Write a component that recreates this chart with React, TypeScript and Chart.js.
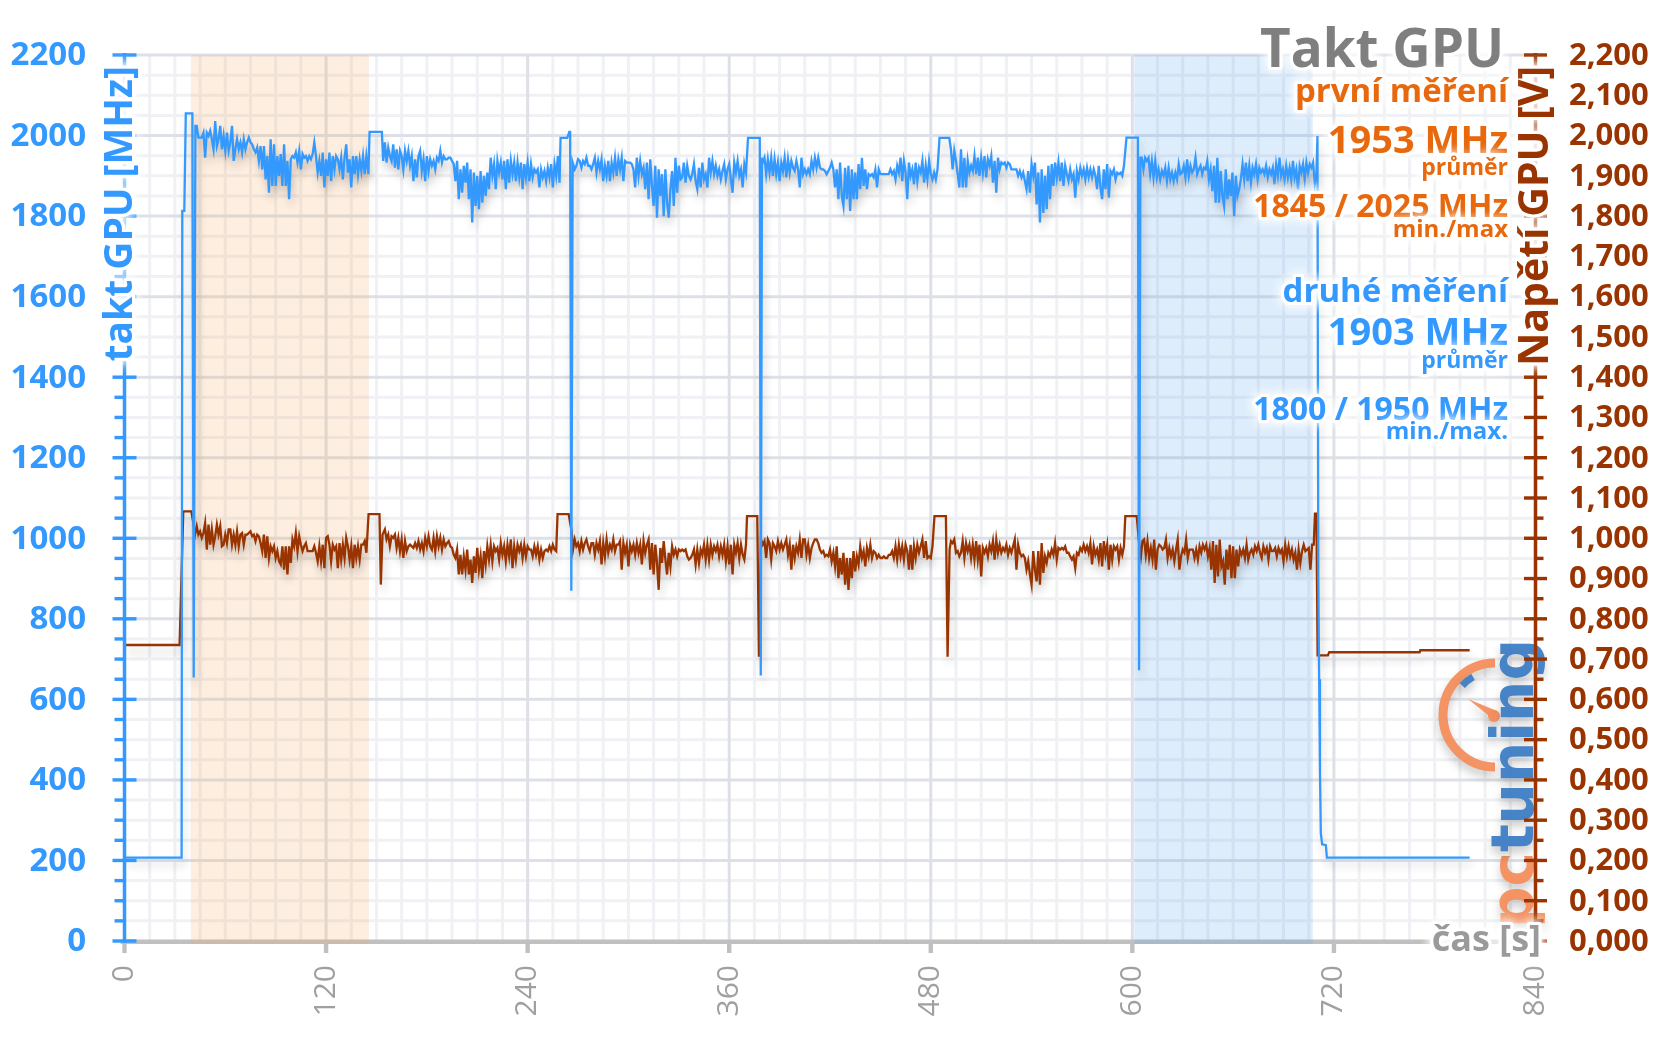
import React, { useEffect, useRef } from 'react';
import { Chart, registerables } from 'chart.js';

Chart.register(...registerables);

// ---------- axis ticks ----------
const timeTicks = [0, 120, 240, 360, 480, 600, 720, 840];
const clockTicks = [0, 200, 400, 600, 800, 1000, 1200, 1400, 1600, 1800, 2000, 2200];
const voltTicks = [0, 0.1, 0.2, 0.3, 0.4, 0.5, 0.6, 0.7, 0.8, 0.9, 1.0, 1.1, 1.2, 1.3, 1.4, 1.5, 1.6, 1.7, 1.8, 1.9, 2.0, 2.1, 2.2];
const TIME_MINOR = 15;
const CLOCK_MINOR = 50;
const VOLT_MINOR = 0.05;

// shaded windows (seconds)
const bandFirst = [39.5, 145.5];
const bandSecond = [601.2, 707.4];

// ---------- GPU clock [MHz] ----------
const clockSteps1 = [[0, 207], [34, 207], [34.4, 1813], [35.6, 1813], [36.5, 2055], [40.4, 2055], [41.2, 654], [42.2, 2024]];
const clockSteps2 = [[145.2, 1904], [145.9, 2009], [153.2, 2009]];
const clockSteps3 = [[259.6, 1994], [263.6, 1994], [264.8, 2009], [265.3, 2009], [266, 870], [266.8, 1933]];
const clockSteps4 = [[371.2, 1994], [378.2, 1994], [378.8, 659], [379.5, 1945]];
const clockSteps5 = [[485.2, 1994], [491, 1994]];
const clockSteps6 = [[596.5, 1995], [603.3, 1995], [604, 672], [604.8, 1945]];
const clockSteps7 = [[710.2, 1999], [710.5, 1999], [710.7, 900], [711.2, 650], [711.7, 420], [712.2, 268], [713, 240], [715.2, 238], [715.8, 207], [800.8, 207]];

const clockRunStarts = [43, 154, 268, 380, 492, 605.6];
const clockRun1 = [2024,1995,1995,1995,2007,1945,2007,1999,2012,1991,1966,2036,1974,1991,2024,1966,1999,1962,2007,1962,1983,2024,1937,1966,1991,1966,1983,1958,1991,1966,1983,1995,1983,1978,1966,1958,1970,1937,1974,1916,1974,1891,1949,1858,1991,1875,1978,1875,1949,1900,1954,1875,1978,1875,1937,1842,1941,1949,1945,1958,1933,1962,1916,1954,1945,1949,1937,1949,1941,1954,1983,1949,1908,1937,1900,1958,1871,1941,1900,1958,1887,1949,1916,1949,1941,1916,1945,1891,1945,1978,1908,1941,1871,1949,1904,1949,1904,1941,1912,1949,1904,1949];
const clockRun2 = [1937,1983,1933,1970,1949,1937,1978,1920,1966,1916,1962,1949,1916,1962,1937,1962,1925,1949,1887,1941,1896,1949,1962,1912,1941,1887,1949,1912,1941,1925,1937,1916,1945,1937,1962,1933,1949,1941,1941,1945,1945,1937,1929,1887,1937,1842,1916,1858,1925,1883,1933,1842,1916,1784,1908,1825,1900,1817,1912,1833,1900,1850,1908,1867,1945,1900,1929,1867,1937,1908,1933,1891,1937,1867,1941,1883,1937,1904,1933,1887,1933,1896,1933,1867,1929,1896,1933,1887,1929,1896,1916,1908,1916,1871,1916,1896,1912,1887,1920,1896,1929,1871,1929,1900,1949,1883];
const clockRun3 = [1916,1925,1941,1937,1920,1937,1929,1945,1925,1925,1916,1929,1945,1908,1937,1916,1941,1887,1925,1900,1937,1887,1933,1908,1945,1900,1941,1916,1945,1887,1937,1933,1933,1933,1929,1916,1871,1945,1900,1937,1904,1920,1867,1933,1842,1941,1875,1825,1925,1796,1916,1850,1904,1800,1916,1833,1796,1867,1912,1825,1945,1858,1925,1891,1896,1933,1883,1925,1900,1891,1904,1929,1887,1867,1920,1871,1933,1891,1904,1871,1945,1908,1937,1904,1925,1900,1916,1891,1912,1929,1891,1916,1929,1891,1858,1933,1908,1937,1900,1916,1871,1929,1908];
const clockRun4 = [1933,1945,1904,1941,1908,1945,1900,1941,1904,1933,1887,1933,1912,1945,1896,1941,1908,1937,1920,1912,1937,1916,1871,1945,1904,1916,1904,1916,1904,1937,1916,1945,1920,1945,1920,1916,1916,1912,1904,1912,1920,1933,1916,1871,1916,1842,1933,1850,1825,1920,1842,1925,1813,1916,1842,1908,1842,1929,1867,1945,1875,1916,1867,1904,1900,1904,1896,1916,1871,1916,1904,1904,1904,1904,1904,1904,1916,1904,1912,1891,1925,1908,1945,1887,1937,1908,1842,1933,1900,1916,1879,1933,1887,1920,1908,1937,1883,1925,1891,1937,1904,1891,1908,1891,1916];
const clockRun5 = [1966,1916,1962,1937,1904,1871,1966,1871,1945,1871,1937,1908,1925,1912,1949,1904,1945,1900,1945,1908,1949,1896,1941,1925,1949,1883,1937,1858,1945,1916,1933,1929,1933,1920,1933,1929,1916,1916,1916,1916,1900,1912,1896,1908,1887,1867,1912,1858,1929,1900,1933,1829,1908,1784,1916,1808,1900,1817,1925,1842,1929,1875,1933,1896,1933,1887,1933,1875,1925,1904,1887,1916,1891,1904,1846,1912,1891,1920,1900,1916,1891,1920,1896,1916,1896,1916,1900,1867,1925,1871,1842,1916,1867,1929,1846,1912,1904,1916,1891,1908,1904,1908,1900,1925];
const clockRun6 = [1945,1916,1945,1937,1945,1904,1937,1896,1937,1896,1916,1891,1912,1900,1920,1887,1920,1891,1908,1887,1908,1891,1929,1904,1908,1925,1896,1941,1900,1925,1908,1916,1945,1904,1916,1925,1904,1920,1916,1937,1891,1916,1862,1925,1833,1945,1833,1912,1850,1825,1916,1842,1891,1850,1908,1800,1900,1850,1867,1891,1929,1891,1933,1887,1925,1883,1920,1904,1929,1891,1920,1908,1916,1904,1925,1896,1916,1904,1920,1879,1929,1900,1945,1900,1916,1891,1925,1896,1920,1891,1937,1896,1916,1867,1925,1908,1929,1891,1933,1908,1929,1920,1933,1879,1908];

// ---------- GPU voltage [V] ----------
const voltSteps1 = [[0, 0.735], [32.8, 0.735], [35, 1.067], [39.8, 1.067], [41, 1.038]];
const voltSteps2 = [[145.3, 1.06], [151.8, 1.06], [152.6, 0.885], [153.6, 1.009]];
const voltSteps3 = [[257.8, 1.06], [264.4, 1.06], [266.2, 1.017]];
const voltSteps4 = [[370.6, 1.055], [376.7, 1.055], [377.7, 0.706], [378.9, 0.997]];
const voltSteps5 = [[482.2, 1.055], [489, 1.055], [490, 0.706], [491.2, 0.972]];
const voltSteps6 = [[595.8, 1.055], [602.6, 1.055], [604.1, 0.984], [605.1, 0.955]];
const voltSteps7 = [[708.7, 1.061], [709.6, 1.061], [710.3, 0.709], [716.4, 0.709], [717.2, 0.717], [771, 0.717], [771.4, 0.722], [800.8, 0.722]];

const voltRunStarts = [42, 155, 267, 380, 492, 606];
const voltRun1 = [1.009,1.030,1.009,1.017,1.001,1.013,1.038,0.972,1.034,0.984,1.022,0.984,1.005,1.034,1.009,1.030,0.980,0.984,1.009,0.988,1.022,1.022,0.984,1.009,0.984,1.017,0.980,1.009,1.013,0.984,1.009,1.009,1.013,1.017,1.005,1.009,0.993,1.009,1.005,0.988,0.968,1.009,0.951,1.005,0.951,0.980,0.968,0.980,0.951,0.968,0.943,0.935,0.980,0.922,0.980,0.910,0.980,0.939,0.997,0.980,1.013,0.968,1.005,0.984,0.968,0.980,0.988,0.968,0.968,0.968,0.968,0.980,0.964,0.943,0.980,0.943,0.984,0.926,1.001,1.005,0.984,0.943,0.984,0.972,0.980,0.926,0.988,0.947,0.984,0.951,1.001,0.980,0.947,0.980,0.926,0.984,0.951,0.980,0.947,0.984,0.984,0.993,0.964];
const voltRun2 = [1.022,0.997,1.009,0.980,1.005,1.001,1.009,0.976,1.001,0.968,0.997,0.951,0.993,0.968,0.980,0.984,0.980,0.976,0.988,0.976,0.993,0.972,0.988,0.968,1.001,0.980,1.005,0.980,0.972,1.001,0.968,1.005,0.980,1.001,0.972,0.997,0.980,0.988,0.993,0.980,0.976,0.959,0.951,0.972,0.910,0.959,0.910,0.955,0.922,0.972,0.910,0.947,0.889,0.955,0.914,0.976,0.922,0.955,0.901,0.968,0.935,0.980,0.947,0.984,0.943,0.980,0.968,0.976,0.947,0.988,0.959,0.980,0.943,0.984,0.955,0.997,0.926,0.980,0.947,0.984,0.968,0.984,0.951,0.984,0.955,0.980,0.972,0.972,0.955,0.980,0.959,0.980,0.947,0.972,0.951,0.968,0.972,0.968,0.980,0.968,0.984,0.972,0.968];
const voltRun3 = [0.972,0.997,0.980,0.988,0.968,0.993,0.972,0.988,0.997,0.980,0.968,0.988,0.988,0.959,0.988,0.972,0.993,0.935,0.988,0.955,0.997,0.964,0.984,0.972,0.997,0.968,0.984,0.984,0.993,0.922,0.988,0.964,0.984,0.930,0.984,0.968,0.984,0.959,0.988,0.964,0.984,0.935,0.993,0.964,0.984,0.997,0.922,0.988,0.910,0.984,0.939,0.872,0.976,0.939,0.993,0.947,0.910,0.964,0.930,0.980,0.959,0.972,0.955,0.972,0.968,0.972,0.968,0.972,0.955,0.947,0.951,0.959,0.972,0.935,0.972,0.939,0.972,0.959,0.984,0.947,0.984,0.947,0.984,0.959,0.980,0.968,0.984,0.955,0.980,0.959,0.984,0.943,0.980,0.935,0.984,0.910,0.984,0.964,0.988,0.951,0.984,0.959,0.947,0.984];
const voltRun4 = [0.984,0.993,0.951,0.997,0.988,0.947,0.988,0.980,0.968,0.993,0.972,0.988,0.972,0.984,0.997,0.959,0.984,0.922,0.984,0.951,0.980,0.964,0.997,0.951,0.997,0.997,0.959,0.984,0.951,0.976,0.988,0.997,0.997,0.988,0.972,0.964,0.968,0.955,0.959,0.955,0.972,0.943,0.964,0.930,0.980,0.901,0.951,0.910,0.964,0.885,0.951,0.872,0.951,0.901,0.968,0.918,0.955,0.935,0.980,0.951,0.968,0.930,0.976,0.955,0.984,0.951,0.968,0.964,0.951,0.959,0.951,0.951,0.955,0.951,0.951,0.959,0.959,0.968,0.951,0.980,0.947,0.984,0.955,0.980,0.947,0.984,0.968,0.922,0.984,0.922,0.980,0.951,0.984,0.964,0.980,0.997,0.951,0.993,0.951,0.955,0.951,0.980];
const voltRun5 = [0.993,0.988,0.997,0.964,0.968,0.955,0.964,0.993,0.951,0.988,0.968,0.984,0.951,0.984,0.947,0.993,0.947,0.984,0.905,0.976,0.964,0.976,0.955,0.984,0.968,0.993,0.947,0.997,0.964,0.984,0.964,0.976,0.968,0.984,0.959,0.976,0.964,0.980,0.997,0.922,0.984,0.964,0.955,0.959,0.951,0.922,0.943,0.910,0.885,0.968,0.922,0.893,0.968,0.885,0.988,0.914,0.955,0.939,0.964,0.955,0.972,0.959,0.988,0.947,0.976,0.972,0.976,0.972,0.980,0.964,0.964,0.955,0.947,0.955,0.926,0.964,0.959,0.976,0.968,0.984,0.968,0.980,0.964,0.988,0.935,0.980,0.959,0.972,0.947,0.988,0.930,0.993,0.959,0.984,0.922,0.984,0.947,0.980,0.972,0.980,0.947,0.976,0.959,0.980];
const voltRun6 = [0.993,0.997,0.959,0.993,0.951,0.976,0.947,0.997,0.922,0.972,0.984,0.980,0.972,0.976,0.997,0.951,0.976,0.955,0.972,0.943,0.972,0.997,0.922,0.955,0.972,0.964,0.997,0.951,0.972,0.972,0.972,0.951,0.972,0.947,0.980,0.964,0.984,0.972,0.984,0.955,0.976,0.922,0.993,0.889,0.984,0.905,0.997,0.930,0.943,0.885,0.972,0.922,0.984,0.901,0.980,0.901,0.972,0.930,0.972,0.959,0.972,0.951,0.984,0.947,0.964,0.972,0.959,0.980,0.968,0.984,0.964,0.951,0.980,0.964,0.976,0.947,0.980,0.968,0.968,0.976,0.955,0.976,0.964,0.972,0.943,0.984,0.955,0.980,0.955,0.972,0.947,0.964,0.922,0.972,0.939,0.968,0.984,0.968,0.972,0.976,0.922,0.984,0.984];

// ---------- build point lists ----------
type P = { x: number; y: number };
const pts = (pairs: number[][]): P[] => pairs.map(([x, y]) => ({ x, y }));
const run = (t0: number, vals: number[]): P[] => vals.map((y, i) => ({ x: t0 + i, y }));

const clockRuns = [clockRun1, clockRun2, clockRun3, clockRun4, clockRun5, clockRun6];
const clockSteps = [clockSteps1, clockSteps2, clockSteps3, clockSteps4, clockSteps5, clockSteps6, clockSteps7];
const voltRuns = [voltRun1, voltRun2, voltRun3, voltRun4, voltRun5, voltRun6];
const voltSteps = [voltSteps1, voltSteps2, voltSteps3, voltSteps4, voltSteps5, voltSteps6, voltSteps7];

function assemble(steps: number[][][], runs: number[][], starts: number[]): P[] {
  const out: P[] = [];
  for (let i = 0; i < steps.length; i++) {
    out.push(...pts(steps[i]));
    if (i < runs.length) out.push(...run(starts[i], runs[i]));
  }
  return out;
}

const clockData = assemble(clockSteps, clockRuns, clockRunStarts);
const voltData = assemble(voltSteps, voltRuns, voltRunStarts);

// ---------- style ----------
const BLUE = '#3399ff';
const BROWN = '#993300';
const ORANGE = '#e8680d';
const GRAY_TXT = '#a0a0a0';
const FONT = '"Open Sans", "Noto Sans", sans-serif';

function glowText(ctx: CanvasRenderingContext2D, text: string, x: number, y: number, color: string, r = 5) {
  ctx.save();
  ctx.shadowColor = 'rgba(255,255,255,1)';
  ctx.shadowBlur = r * 2;
  ctx.strokeStyle = 'rgba(255,255,255,0.95)';
  ctx.lineWidth = r;
  ctx.lineJoin = 'round';
  ctx.strokeText(text, x, y);
  ctx.strokeText(text, x, y);
  ctx.restore();
  ctx.fillStyle = color;
  ctx.fillText(text, x, y);
}

function drawLogo(ctx: CanvasRenderingContext2D) {
  ctx.save();
  ctx.shadowColor = 'rgba(0,0,0,0.22)';
  ctx.shadowBlur = 10;
  ctx.shadowOffsetY = 6;
  const cx = 1495, cy = 715;
  ctx.strokeStyle = 'rgba(244,142,92,0.95)';
  ctx.lineWidth = 9;
  ctx.beginPath();
  ctx.arc(cx, cy, 52, -Math.PI / 2, Math.PI / 2, true);
  ctx.stroke();
  ctx.strokeStyle = 'rgba(62,125,197,0.95)';
  ctx.lineWidth = 7;
  ctx.beginPath();
  ctx.arc(cx, cy, 44, (222 * Math.PI) / 180, (240 * Math.PI) / 180);
  ctx.stroke();
  // needle
  ctx.fillStyle = 'rgba(244,142,92,0.95)';
  ctx.beginPath();
  ctx.moveTo(1468, 699);
  ctx.lineTo(cx + 2, cy - 4);
  ctx.lineTo(cx - 2, cy + 4);
  ctx.closePath();
  ctx.fill();
  ctx.beginPath();
  ctx.arc(cx - 1, cy + 1, 6, 0, Math.PI * 2);
  ctx.fill();
  // text
  ctx.translate(1533, 928);
  ctx.rotate(-Math.PI / 2);
  ctx.font = 'bold 58px "DejaVu Sans"';
  ctx.textAlign = 'left';
  ctx.textBaseline = 'alphabetic';
  ctx.fillStyle = 'rgba(244,142,92,0.95)';
  ctx.fillText('pc', 0, 0);
  const w = ctx.measureText('pc').width;
  ctx.fillStyle = 'rgba(62,125,197,0.95)';
  ctx.fillText('tuning', w, 0);
  ctx.restore();
}

const decor = {
  id: 'decor',
  beforeDraw(chart: any) {
    const ctx = chart.ctx;
    ctx.save();
    ctx.fillStyle = '#ffffff';
    ctx.fillRect(0, 0, chart.width, chart.height);
    ctx.restore();
  },
  beforeDatasetsDraw(chart: any) {
    const { ctx, chartArea: a, scales } = chart;
    const x = scales.x, y = scales.y;
    ctx.save();
    ctx.lineWidth = 3;
    // minor grid
    ctx.strokeStyle = '#eff1f4';
    for (let v = CLOCK_MINOR; v <= 2200; v += CLOCK_MINOR) {
      if (v % 200 === 0) continue;
      const py = y.getPixelForValue(v);
      ctx.beginPath(); ctx.moveTo(a.left, py); ctx.lineTo(a.right, py); ctx.stroke();
    }
    for (let t = TIME_MINOR; t < 840; t += TIME_MINOR) {
      if (t % 120 === 0) continue;
      const px = x.getPixelForValue(t);
      ctx.beginPath(); ctx.moveTo(px, a.top); ctx.lineTo(px, a.bottom); ctx.stroke();
    }
    // major grid
    ctx.strokeStyle = '#dde1e7';
    for (const v of clockTicks) {
      if (v === 0) continue;
      const py = y.getPixelForValue(v);
      ctx.beginPath(); ctx.moveTo(a.left, py); ctx.lineTo(a.right, py); ctx.stroke();
    }
    for (const t of timeTicks) {
      if (t === 0 || t === 840) continue;
      const px = x.getPixelForValue(t);
      ctx.beginPath(); ctx.moveTo(px, a.top); ctx.lineTo(px, a.bottom); ctx.stroke();
    }
    // x axis line + ticks
    ctx.fillStyle = '#c0c0c0';
    ctx.fillRect(a.left - 4, a.bottom - 1.5, a.right - a.left + 8, 4.5);
    for (const t of timeTicks) {
      const px = x.getPixelForValue(t);
      ctx.fillRect(px - 2.2, a.bottom, 4.4, 12);
    }
    // bands
    ctx.fillStyle = 'rgba(245,170,100,0.2)';
    let x0 = x.getPixelForValue(bandFirst[0]);
    let x1 = x.getPixelForValue(bandFirst[1]);
    ctx.fillRect(x0, a.top, x1 - x0, a.bottom + 3 - a.top);
    ctx.fillStyle = 'rgba(90,165,240,0.2)';
    x0 = x.getPixelForValue(bandSecond[0]);
    x1 = x.getPixelForValue(bandSecond[1]);
    ctx.fillRect(x0, a.top, x1 - x0, a.bottom + 3 - a.top);
    ctx.restore();
    drawLogo(ctx);
  },
  beforeDatasetDraw(chart: any) {
    const ctx = chart.ctx;
    ctx.save();
    ctx.shadowColor = 'rgba(0,0,0,0.2)';
    ctx.shadowBlur = 9;
    ctx.shadowOffsetX = 2;
    ctx.shadowOffsetY = 7;
  },
  afterDatasetDraw(chart: any) {
    chart.ctx.restore();
  },
  afterDatasetsDraw(chart: any) {
    const { ctx, chartArea: a, scales } = chart;
    const x = scales.x, y = scales.y, y1 = scales.y1;
    ctx.save();
    // left axis
    ctx.fillStyle = BLUE;
    ctx.fillRect(a.left - 1.75, a.top - 2, 3.5, a.bottom - a.top + 4);
    for (let v = 0; v <= 2200; v += CLOCK_MINOR) {
      const py = y.getPixelForValue(v);
      if (v % 200 === 0) ctx.fillRect(a.left - 12, py - 1.7, 24, 3.4);
      else ctx.fillRect(a.left - 10, py - 1.7, 10, 3.4);
    }
    // right axis
    ctx.fillStyle = BROWN;
    ctx.fillRect(a.right - 1.75, a.top - 2, 3.5, a.bottom - a.top + 4);
    for (let i = 0; i <= 44; i++) {
      const v = i * VOLT_MINOR;
      const py = y1.getPixelForValue(v);
      if (i % 2 === 0) ctx.fillRect(a.right - 11.5, py - 1.7, 23, 3.4);
      else ctx.fillRect(a.right, py - 1.7, 8, 3.4);
    }
    // left labels
    ctx.font = `bold 33px ${FONT}`;
    ctx.textAlign = 'right';
    ctx.textBaseline = 'middle';
    ctx.fillStyle = BLUE;
    for (const v of clockTicks) ctx.fillText(String(v), 86, y.getPixelForValue(v) + 1);
    // right labels
    ctx.font = `bold 31px ${FONT}`;
    ctx.textAlign = 'left';
    ctx.fillStyle = BROWN;
    for (const v of voltTicks) ctx.fillText(v.toFixed(3).replace('.', ','), 1569, y1.getPixelForValue(v) + 1);
    // x labels
    ctx.font = `30px ${FONT}`;
    ctx.fillStyle = GRAY_TXT;
    for (const t of timeTicks) {
      ctx.save();
      ctx.translate(x.getPixelForValue(t), 965);
      ctx.rotate(-Math.PI / 2);
      ctx.textAlign = 'right';
      ctx.textBaseline = 'middle';
      ctx.fillText(String(t), 0, 0);
      ctx.restore();
    }
    // axis titles
    ctx.textBaseline = 'alphabetic';
    ctx.save();
    ctx.translate(131.5, 66);
    ctx.rotate(-Math.PI / 2);
    ctx.font = `bold 39px ${FONT}`;
    ctx.textAlign = 'right';
    glowText(ctx, 'takt GPU [MHz]', 0, 0, BLUE, 6);
    ctx.restore();
    ctx.save();
    ctx.translate(1548, 66);
    ctx.rotate(-Math.PI / 2);
    ctx.font = `bold 41px ${FONT}`;
    ctx.textAlign = 'right';
    glowText(ctx, 'Napětí GPU [V]', 0, 0, BROWN, 6);
    ctx.restore();
    // x axis name
    ctx.font = `bold 36px ${FONT}`;
    ctx.textAlign = 'right';
    glowText(ctx, 'čas [s]', 1541, 951, '#9a9a9a', 6);
    // annotations
    const R = 1508;
    const notes: [string, number, number, string][] = [
      ['první měření', 33, 102, ORANGE],
      ['1953 MHz', 38, 153, ORANGE],
      ['průměr', 23, 175, ORANGE],
      ['1845 / 2025 MHz', 32, 216.5, ORANGE],
      ['min./max', 24, 237, ORANGE],
      ['druhé měření', 33, 301.5, BLUE],
      ['1903 MHz', 38, 345, BLUE],
      ['průměr', 23, 368, BLUE],
      ['1800 / 1950 MHz', 32, 420, BLUE],
      ['min./max.', 24, 439, BLUE],
    ];
    ctx.font = `bold 53px ${FONT}`;
    glowText(ctx, 'Takt GPU', 1504, 67, '#7f7f7f', 6);
    for (const [txt, size, by, col] of notes) {
      ctx.font = `bold ${size}px ${FONT}`;
      glowText(ctx, txt, R, by, col, 6);
    }
    ctx.restore();
  },
};

export default function App() {
  const ref = useRef<HTMLCanvasElement | null>(null);
  useEffect(() => {
    if (!ref.current) return;
    const chart = new Chart(ref.current, {
      type: 'line',
      data: {
        datasets: [
          { label: 'takt GPU', data: clockData, borderColor: BLUE, borderWidth: 2.3, pointRadius: 0, yAxisID: 'y', order: 0, tension: 0 },
          { label: 'Napětí GPU', data: voltData, borderColor: BROWN, borderWidth: 2.3, pointRadius: 0, yAxisID: 'y1', order: 1, tension: 0 },
        ],
      },
      options: {
        animation: false,
        responsive: false,
        devicePixelRatio: 1,
        parsing: true,
        layout: { padding: { left: 124.5, right: 120.5, top: 55, bottom: 103 } },
        plugins: { legend: { display: false }, tooltip: { enabled: false } },
        scales: {
          x: { type: 'linear', min: 0, max: 840, display: false },
          y: { type: 'linear', min: 0, max: 2200, display: false },
          y1: { type: 'linear', min: 0, max: 2.2, display: false, position: 'right' },
        },
      },
      plugins: [decor],
    } as any);
    return () => chart.destroy();
  }, []);
  return (
    <div style={{ position: 'fixed', left: 0, top: 0, width: 1656, height: 1044, background: '#fff' }}>
      <canvas ref={ref} width={1656} height={1044} style={{ display: 'block', width: 1656, height: 1044 }} />
    </div>
  );
}
